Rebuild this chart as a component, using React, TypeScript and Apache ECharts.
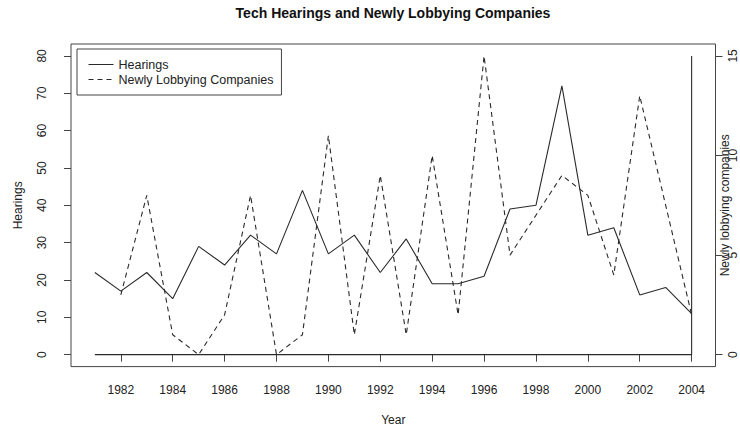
import React, { useEffect, useRef } from "react";
import * as echarts from "echarts";

const title = "Tech Hearings and Newly Lobbying Companies";
const hearingYears = [1981, 1982, 1983, 1984, 1985, 1986, 1987, 1988, 1989, 1990, 1991, 1992, 1993, 1994, 1995, 1996, 1997, 1998, 1999, 2000, 2001, 2002, 2003, 2004];
const hearings = [22, 17, 22, 15, 29, 24, 32, 27, 44, 27, 32, 22, 31, 19, 19, 21, 39, 40, 72, 32, 34, 16, 18, 11];
const lobbyYears = [1982, 1983, 1984, 1985, 1986, 1987, 1988, 1989, 1990, 1991, 1992, 1993, 1994, 1995, 1996, 1997, 1998, 1999, 2000, 2001, 2002, 2003, 2004];
const newlyLobbying = [3, 8, 1, 0, 2, 8, 0, 1, 11, 1, 9, 1, 10, 2, 15, 5, 7, 9, 8, 4, 13, 7.5, 2];
const frameX = [1981, 2004, 2004];
const frameY = [0, 0, 80];
const xTicks = [1982, 1984, 1986, 1988, 1990, 1992, 1994, 1996, 1998, 2000, 2002, 2004];
const leftTicks = [0, 10, 20, 30, 40, 50, 60, 70, 80];
const rightTicks = [0, 5, 10, 15];

const FONT = "'Liberation Sans', Arial, Helvetica, sans-serif";
const INK = "#2a2a2a";

export default function App() {
  const ref = useRef<HTMLDivElement>(null);
  useEffect(() => {
    if (!ref.current) return;
    const chart = echarts.init(ref.current, null, { renderer: "svg" });
    const pad = (lo: number, hi: number) => [lo - (hi - lo) * 0.04, hi + (hi - lo) * 0.04];
    const [xmin, xmax] = pad(1981, 2004);
    const [lmin, lmax] = pad(0, 80);
    const [rmin, rmax] = pad(0, 15);
    const plain = (v: number) => String(v);
    chart.setOption({
      animation: false,
      textStyle: { fontFamily: FONT },
      grid: {
        left: 71,
        right: 24.5,
        top: 44,
        bottom: 63.4,
        show: true,
        borderColor: "#444",
        borderWidth: 1,
        backgroundColor: "transparent",
        containLabel: false,
        outerBoundsMode: "none",
      },
      graphic: [
        {
          type: "text",
          x: 393,
          y: 13,
          style: {
            text: title,
            textAlign: "center",
            textVerticalAlign: "middle",
            font: `bold 14px ${FONT}`,
            fill: "#111",
          },
        },
      ],
      legend: {
        orient: "vertical",
        left: 77,
        top: 49,
        padding: [9, 8, 9, 11],
        itemGap: 2,
        itemWidth: 25,
        itemHeight: 12,
        itemTextGap: 14,
        borderColor: "#444",
        borderWidth: 1,
        itemStyle: { opacity: 0 },
        lineStyle: { width: 1 },
        textStyle: { fontSize: 12.5, color: "#222", fontFamily: FONT },
        data: ["Hearings", "Newly Lobbying Companies"],
      },
      xAxis: {
        type: "value",
        min: xmin,
        max: xmax,
        name: "Year",
        nameLocation: "middle",
        nameGap: 47,
        nameMoveOverlap: false,
        nameTextStyle: { fontSize: 12, color: "#222", fontFamily: FONT },
        axisLine: { show: false },
        axisTick: { show: true, length: 7, lineStyle: { color: "#444" }, customValues: xTicks },
        axisLabel: { fontSize: 12, color: "#222", margin: 17, customValues: xTicks, formatter: plain, fontFamily: FONT },
        splitLine: { show: false },
      },
      yAxis: [
        {
          type: "value",
          min: lmin,
          max: lmax,
          position: "left",
          name: "Hearings",
          nameLocation: "middle",
          nameRotate: 90,
          nameGap: 47,
          nameMoveOverlap: false,
          nameTextStyle: { fontSize: 12, color: "#222", fontFamily: FONT },
          axisLine: { show: false },
          axisTick: { show: true, length: 7, lineStyle: { color: "#444" }, customValues: leftTicks },
          axisLabel: { fontSize: 12, color: "#222", rotate: 90, margin: 23, customValues: leftTicks, formatter: plain, fontFamily: FONT },
          splitLine: { show: false },
        },
        {
          type: "value",
          min: rmin,
          max: rmax,
          position: "right",
          name: "Newly lobbying companies",
          nameLocation: "middle",
          nameRotate: 90,
          nameGap: 3,
          nameMoveOverlap: false,
          nameTextStyle: { fontSize: 12, color: "#222", fontFamily: FONT },
          axisLine: { show: false },
          axisTick: { show: true, length: 7, lineStyle: { color: "#444" }, customValues: rightTicks },
          axisLabel: { fontSize: 12, color: "#222", rotate: 90, margin: 11, customValues: rightTicks, formatter: plain, fontFamily: FONT },
          splitLine: { show: false },
        },
      ],
      series: [
        {
          name: "Hearings",
          type: "line",
          yAxisIndex: 0,
          symbol: "none",
          lineStyle: { color: INK, width: 1.1, type: "solid" },
          itemStyle: { color: INK },
          data: hearingYears.map((y, i) => [y, hearings[i]]),
        },
        {
          name: "Newly Lobbying Companies",
          type: "line",
          yAxisIndex: 1,
          symbol: "none",
          lineStyle: { color: INK, width: 1.1, type: [5, 4] },
          itemStyle: { color: INK },
          data: lobbyYears.map((y, i) => [y, newlyLobbying[i]]),
        },
        {
          name: "frame",
          type: "line",
          yAxisIndex: 0,
          symbol: "none",
          silent: true,
          lineStyle: { color: INK, width: 1.1 },
          data: frameX.map((x, i) => [x, frameY[i]]),
        },
      ],
    });
    return () => chart.dispose();
  }, []);
  return (
    <div
      ref={ref}
      style={{ position: "absolute", left: 0, top: 0, width: 740, height: 430, background: "#fff" }}
    />
  );
}
